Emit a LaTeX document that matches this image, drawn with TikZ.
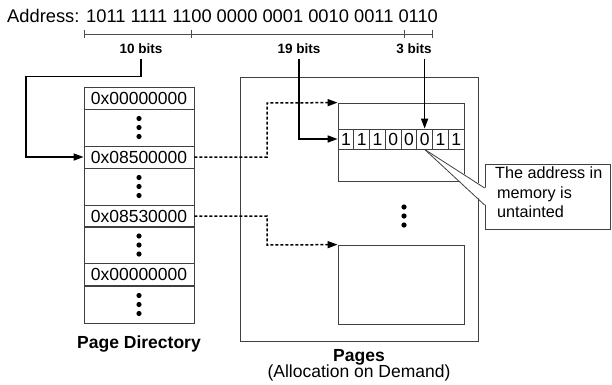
\documentclass[tikz,border=0pt]{standalone}
\usepackage{fontspec}
\setmainfont{Liberation Sans}
\usetikzlibrary{arrows.meta}
\begin{document}
\begin{tikzpicture}[x=1pt,y=-1pt,
  box/.style={draw=black!75,line width=0.8pt,inner sep=0pt},
  entry/.style={box,minimum width=110pt,minimum height=22pt,font=\fontsize{17.5}{20}\selectfont},
  dotrow/.style={box,minimum width=110pt,minimum height=37pt},
  bitcell/.style={box,minimum width=15.75pt,minimum height=20pt,font=\fontsize{17.5}{20}\selectfont},
  bitslabel/.style={font=\fontsize{13.5}{15}\selectfont\bfseries,inner xsep=2pt,inner ysep=5pt},
  arr/.style={line width=1.6pt,-{Triangle[length=10pt,width=7pt]}},
  darr/.style={line width=1.5pt,dash pattern=on 3pt off 2pt,-{Triangle[length=10pt,width=7pt]}},
  scalebar/.style={draw=black!70,line width=0.9pt}
]
\useasboundingbox (0,0) rectangle (612,384);
% address
\node[anchor=base west,inner sep=0pt,font=\fontsize{18.3}{20}\selectfont] (addr) at (7,22.5) {Address: 1011 1111 1100 0000 0001 0010 0011 0110};
% scale bar
\coordinate (s0) at (84,34);
\coordinate (s1) at (191.5,34);
\coordinate (s2) at (404,34);
\coordinate (s3) at (432,34);
\draw[scalebar] (s0) -- (s3);
\foreach \s in {s0,s1,s2,s3} \draw[scalebar] ([yshift=-4pt]\s) -- ([yshift=4.5pt]\s);
\node[bitslabel] (b10) at (141,48.5) {10 bits};
\node[bitslabel] (b19) at (299,48.5) {19 bits};
\node[bitslabel] (b3) at (414,48.5) {3 bits};
% page directory
\node[entry] (r1) at (139,98) {0x00000000};
\node[dotrow] (d1) at (139,127.5) {};
\node[entry] (r2) at (139,157) {0x08500000};
\node[dotrow] (d2) at (139,186.5) {};
\node[entry] (r3) at (139,216) {0x08530000};
\node[dotrow] (d3) at (139,245) {};
\node[entry] (r4) at (139,274.5) {0x00000000};
\node[dotrow] (d4) at (139,304.5) {};
\foreach \d in {d1,d2,d3,d4} {
  \fill (\d.center) circle (2.6);
  \fill ([yshift=-9pt]\d.center) circle (2.6);
  \fill ([yshift=9pt]\d.center) circle (2.6);
}
\node[font=\fontsize{17.5}{20}\selectfont\bfseries,anchor=base] (pdl) at (139,348) {Page Directory};
% pages
\node[box,minimum width=238pt,minimum height=264pt] (pg) at (359,209) {};
\node[box,minimum width=126pt,minimum height=78pt] (p1) at (401,142) {};
\node[box,minimum width=126pt,minimum height=79pt] (p2) at (401,284.5) {};
\foreach \b [count=\i] in {1,1,1,0,0,0,1,1}
  \node[bitcell] (c\i) at ({338+(\i-0.5)*15.75},139) {\b};
\fill (404,207) circle (2.6);
\fill (404,216) circle (2.6);
\fill (404,225) circle (2.6);
\node[font=\fontsize{17.5}{20}\selectfont\bfseries,anchor=base] (pgl) at (359,361) {Pages};
\node[font=\fontsize{17.5}{20}\selectfont,anchor=base] (pgl2) at (359,377) {(Allocation on Demand)};
% arrows
\draw[arr] (b10.south) -- (b10.south |- 0,76.5) -- (26,76.5) -- (26,157) -- (r2.west);
\draw[arr] (b19.south) -- (b19.south |- c1.west) -- (c1.west);
\draw[arr] (c6.north |- b3.south) -- (c6.north);
\draw[darr] (r2.east) -- (267,157) -- (267,103) -- (p1.north west);
\draw[darr] (r3.east) -- (267,216) -- (267,245) -- (p2.north west);
% callout
\node[box,fill=white,minimum width=125pt,minimum height=65pt] (cb) at (547.5,196.5) {};
\fill[white] (c6.south) -- (486,188) -- (486,205) -- cycle;
\draw[draw=black!75,line width=0.8pt] (c6.south) -- (cb.west |- 0,188);
\draw[draw=black!75,line width=0.8pt] (c6.south) -- (cb.west |- 0,205);
\node[anchor=north west,align=left,inner sep=0pt,font=\fontsize{16.2}{19.5}\selectfont] (note) at (495,167) {The address in\\ \hspace{2pt}memory is\\ \hspace{2pt}untainted};
\end{tikzpicture}
\end{document}
